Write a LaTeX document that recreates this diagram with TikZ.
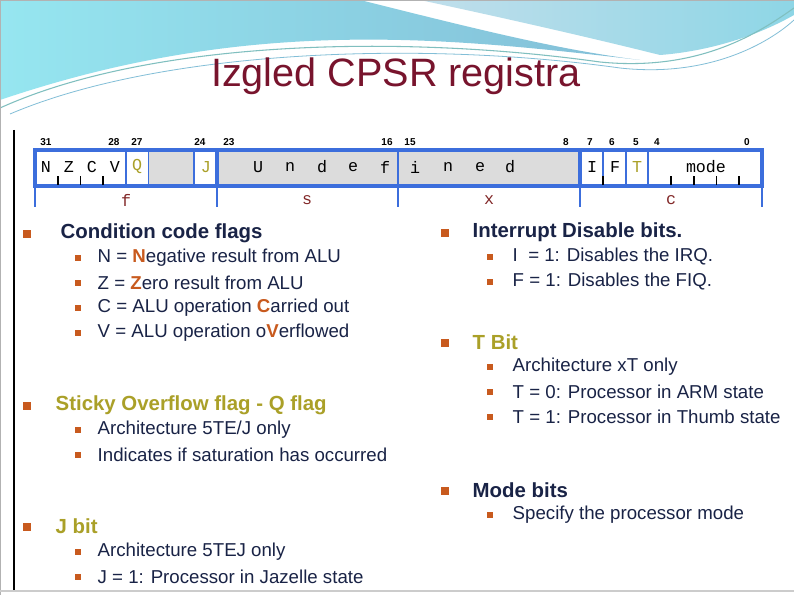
\documentclass[tikz,border=0pt]{standalone}
\usepackage{fontspec}
\setmainfont{Liberation Sans}
\setmonofont{Liberation Mono}
\usetikzlibrary{positioning}
\definecolor{titlered}{RGB}{120,20,45}
\definecolor{navy}{RGB}{25,35,70}
\definecolor{gold}{RGB}{170,160,40}
\definecolor{bulletorange}{RGB}{200,90,30}
\definecolor{regblue}{RGB}{60,110,220}
\definecolor{reggrey}{RGB}{220,220,220}
\definecolor{fieldred}{RGB}{130,40,40}
\definecolor{waveblue}{RGB}{130,190,215}
\definecolor{wavecyan}{RGB}{150,230,240}
\tikzset{
  head/.style={anchor=west, font=\fontsize{15.3}{17}\selectfont\bfseries},
  item/.style={anchor=west, font=\fontsize{14}{16}\selectfont, text=navy},
  bul/.style={fill=bulletorange, minimum size=5.5pt, inner sep=0pt},
  sbul/.style={fill=bulletorange, minimum size=5pt, inner sep=0pt},
  bitno/.style={font=\fontsize{7.5}{8}\selectfont\bfseries\rmfamily},
  bitlet/.style={font=\fontsize{12.5}{13}\selectfont\ttfamily},
  field/.style={font=\fontsize{12.5}{13}\selectfont\ttfamily, text=fieldred},
}
\begin{document}
\begin{tikzpicture}[x=0.75pt, y=-0.75pt]
\useasboundingbox (0,0) rectangle (794,595);
\fill[white] (0,0) rectangle (794,595);

% header waves
\shade[left color=wavecyan, right color=waveblue] (0,0) -- (360,0) .. controls (480,30) and (560,50) .. (640,60) .. controls (450,38) and (250,15) .. (0,100) -- cycle;
\shade[left color=waveblue!50, right color=wavecyan!60!waveblue] (420,0) -- (794,0) -- (794,15) .. controls (750,40) and (700,52) .. (660,55) .. controls (580,35) and (490,15) .. (420,0) -- cycle;
\draw[teal!50, line width=0.8pt] (0,108) .. controls (150,40) and (400,34) .. (600,62) .. controls (700,72) and (760,32) .. (794,8);
\draw[waveblue, line width=0.6pt] (10,114) .. controls (160,50) and (420,40) .. (620,68) .. controls (710,78) and (770,42) .. (794,20);
\draw[gray!60] (0,0) rectangle (794,595);

\node[font=\fontsize{29.7}{34}\selectfont, text=titlered] (title) at (396,76) {Izgled CPSR registra};

% left rule and bottom
\draw[black, line width=0.8pt] (14,130) -- (14,590);
\draw[gray!40, line width=2pt] (0,591) -- (794,591);

% register
\fill[reggrey] (148.6,150) rectangle (194,186);
\fill[reggrey] (217,150) rectangle (580,186);
\foreach \x in {126,148.6,194,398,603,626,648}
  \draw[regblue, line width=1.2pt] (\x,150) -- (\x,186);
\foreach \x in {217,580}
  \draw[regblue, line width=2.5pt] (\x,150) -- (\x,186);
\draw[regblue, line width=3pt] (35,150) rectangle (762,186);
\foreach \x in {35,217,398,580,762}
  \draw[regblue, line width=1.2pt] (\x,186) -- (\x,207);
\foreach \x in {57.7,80.4,103.1,603,671,693.7,716.4,739.1}
  \draw[black, line width=1.2pt] (\x,185) -- (\x,176);

% bit numbers
\foreach \b/\x in {31/46,28/114,27/137,24/200,23/229,16/387,15/410,8/566,7/590,6/612,5/636,4/657,0/747}
  \node[bitno] (b\b) at (\x,142) {\b};

% bit letters
\foreach \l/\x in {N/46,Z/69,C/92,V/115}
  \node[bitlet] (l\l) at (\x,167) {\l};
\node[bitlet, text=gold] (lQ) at (137,167) {Q};
\node[bitlet, text=gold] (lJ) at (206,167) {J};
\foreach \l/\x [count=\i] in {U/258,n/290,d/322,e/353,f/385,i/415,n/448,e/480,d/510}
  \node[bitlet] (u\i) at (\x,167) {\l};
\node[bitlet] (lI) at (592,167) {I};
\node[bitlet] (lF) at (615,167) {F};
\node[bitlet, text=gold] (lT) at (637,167) {T};
\node[bitlet] (mode) at (706,167) {mode};

% fields
\node[field] (ff) at (126,200) {f};
\node[field] (fs) at (307,200) {s};
\node[field] (fx) at (489,200) {x};
\node[field] (fc) at (671,200) {c};

% left column
\node[bul] (bcond) at (27,234) {};
\node[head, text=navy] (cond) at (56,233) {Condition code flags};
\node[sbul] (s1) at (78,258) {}; \node[item] (t1) at (93,258) {N = {\color{bulletorange}\bfseries N}egative result from ALU};
\node[sbul] (s2) at (78,283) {}; \node[item] (t2) at (93,283) {Z = {\color{bulletorange}\bfseries Z}ero result from ALU};
\node[sbul] (s3) at (78,308) {}; \node[item] (t3) at (93,308) {C = ALU operation {\color{bulletorange}\bfseries C}arried out};
\node[sbul] (s4) at (78,333) {}; \node[item] (t4) at (93,333) {V = ALU operation o{\color{bulletorange}\bfseries V}erflowed};

\node[bul] (bq) at (27,406) {};
\node[head, text=gold] (qflag) at (51,405) {Sticky Overflow flag - Q flag};
\node[sbul] (s5) at (78,430) {}; \node[item] (t5) at (93,430) {Architecture 5TE/J only};
\node[sbul] (s6) at (78,455) {}; \node[item] (t6) at (93,455) {Indicates if saturation has occurred};

\node[bul] (bj) at (27,527) {};
\node[head, text=gold] (jbit) at (51,526) {J bit};
\node[sbul] (s7) at (78,552) {}; \node[item] (t7) at (93,552) {Architecture 5TEJ only};
\node[sbul] (s8) at (78,577) {}; \node[item] (t8) at (93,577) {J = 1: Processor in Jazelle state};

% right column
\node[bul] (bint) at (445,233) {};
\node[head, text=navy] (intr) at (468,232) {Interrupt Disable bits.};
\node[sbul] (r1) at (490,257) {}; \node[item] (u1t) at (508,257) {I \ = 1: Disables the IRQ.};
\node[sbul] (r2) at (490,282) {}; \node[item] (u2t) at (508,282) {F = 1: Disables the FIQ.};

\node[bul] (bt) at (445,343) {};
\node[head, text=gold] (tbit) at (468,342) {T Bit};
\node[sbul] (r3) at (490,367) {}; \node[item] (u3t) at (508,367) {Architecture xT only};
\node[sbul] (r4) at (490,392) {}; \node[item] (u4t) at (508,392) {T = 0: Processor in ARM state};
\node[sbul] (r5) at (490,417) {}; \node[item] (u5t) at (508,417) {T = 1: Processor in Thumb state};

\node[bul] (bm) at (445,491) {};
\node[head, text=navy] (mbits) at (468,490) {Mode bits};
\node[sbul] (r6) at (490,515) {}; \node[item] (u6t) at (508,515) {Specify the processor mode};
\end{tikzpicture}
\end{document}
